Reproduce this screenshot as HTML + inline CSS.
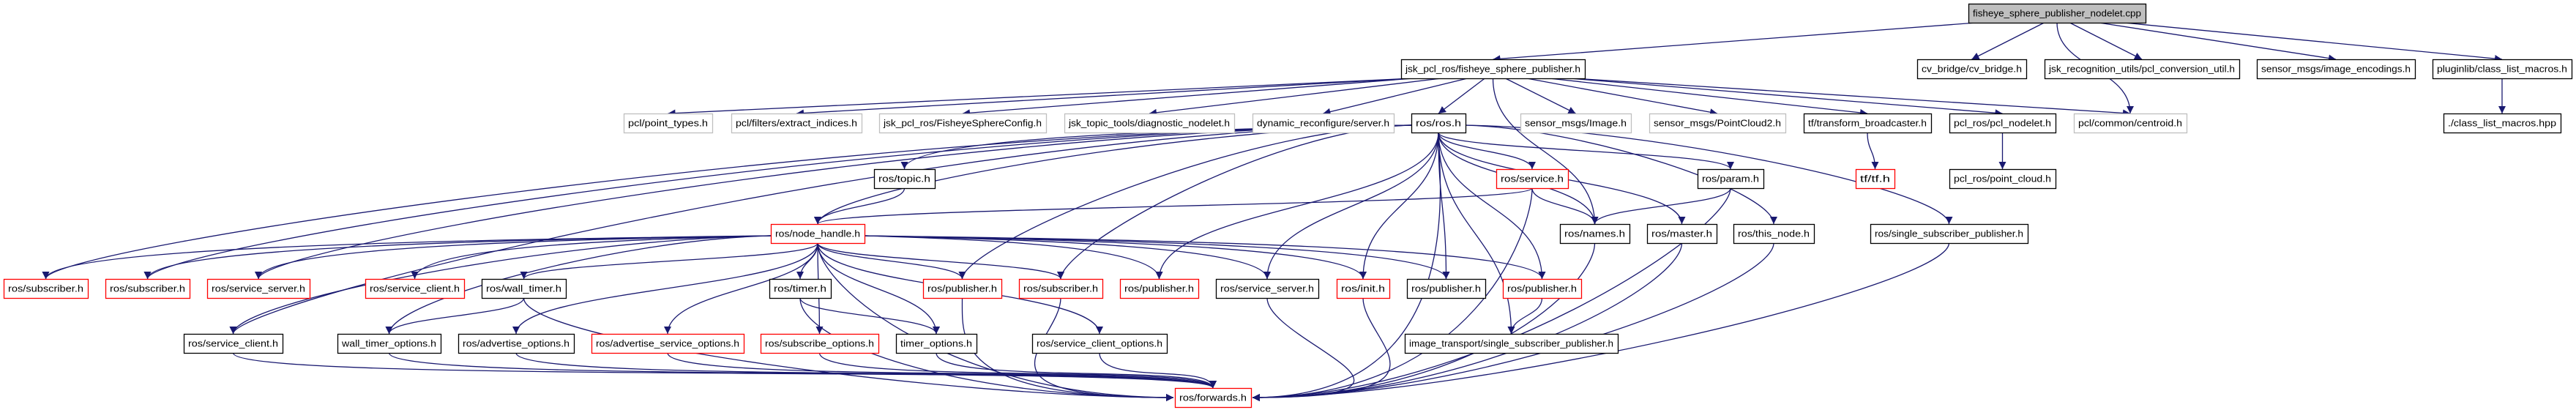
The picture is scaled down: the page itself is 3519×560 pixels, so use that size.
<!DOCTYPE html>
<html><head><meta charset="utf-8"><style>
html,body{margin:0;padding:0;background:#fff;}
svg{display:block;}
text{font-family:"Liberation Sans",sans-serif;font-size:13px;fill:#000;}
</style></head><body>
<svg id="g" xmlns="http://www.w3.org/2000/svg" width="3519" height="560" viewBox="0 0 3519 560">
<defs><marker id="a" viewBox="0 0 10 10" refX="10" refY="5" markerWidth="10" markerHeight="10" markerUnits="userSpaceOnUse" orient="auto"><path d="M0,0L10,5L0,10z" fill="#191970"/></marker></defs>
<g id="e"></g><g id="n"></g>
</svg>
<script>
var R=[5,81,155,231,306,381,456,530];
var N={
root:[2689,2931,0,'fisheye_sphere_publisher_nodelet.cpp','r'],
fp:[1914,2165,1,'jsk_pcl_ros/fisheye_sphere_publisher.h','k'],
cv:[2619,2768,1,'cv_bridge/cv_bridge.h','k'],
jr:[2793,3059,1,'jsk_recognition_utils/pcl_conversion_util.h','k'],
ie:[3083,3299,1,'sensor_msgs/image_encodings.h','k'],
cl:[3323,3513,1,'pluginlib/class_list_macros.h','k'],
pt:[852,973,2,'pcl/point_types.h','g'],
ei:[999,1177,2,'pcl/filters/extract_indices.h','g'],
fc:[1201,1429,2,'jsk_pcl_ros/FisheyeSphereConfig.h','g'],
dn:[1454,1686,2,'jsk_topic_tools/diagnostic_nodelet.h','g'],
dr:[1711,1904,2,'dynamic_reconfigure/server.h','g'],
ros:[1928,2002,2,'ros/ros.h','k'],
si:[2077,2228,2,'sensor_msgs/Image.h','g'],
pc2:[2253,2439,2,'sensor_msgs/PointCloud2.h','g'],
tb:[2464,2638,2,'tf/transform_broadcaster.h','k'],
pn:[2663,2808,2,'pcl_ros/pcl_nodelet.h','k'],
ce:[2833,2987,2,'pcl/common/centroid.h','g'],
clh:[3338,3498,2,'./class_list_macros.hpp','k'],
tp:[1194,1277,3,'ros/topic.h','k'],
sv:[2044,2142,3,'ros/service.h','red'],
pa:[2319,2409,3,'ros/param.h','k'],
tf:[2535,2588,3,'tf/tf.h','red'],
pcc:[2663,2808,3,'pcl_ros/point_cloud.h','k'],
nh:[1053,1181,4,'ros/node_handle.h','red'],
nm:[2131,2226,4,'ros/names.h','k'],
ms:[2250,2345,4,'ros/master.h','k'],
tn:[2368,2478,4,'ros/this_node.h','k'],
ssp:[2555,2770,4,'ros/single_subscriber_publisher.h','k'],
s1:[5,120,5,'ros/subscriber.h','red'],
s2:[144,259,5,'ros/subscriber.h','red'],
ss1:[283,423,5,'ros/service_server.h','red'],
sc1:[499,634,5,'ros/service_client.h','red'],
wt:[658,773,5,'ros/wall_timer.h','k'],
tm:[1051,1135,5,'ros/timer.h','k'],
p1:[1261,1368,5,'ros/publisher.h','red'],
s3:[1392,1506,5,'ros/subscriber.h','red'],
p2:[1530,1637,5,'ros/publisher.h','red'],
ss2:[1661,1801,5,'ros/service_server.h','k'],
in:[1826,1898,5,'ros/init.h','red'],
p3:[1922,2029,5,'ros/publisher.h','k'],
p4:[2053,2160,5,'ros/publisher.h','red'],
sc2:[251,386,6,'ros/service_client.h','k'],
wto:[461,602,6,'wall_timer_options.h','k'],
ao:[626,784,6,'ros/advertise_options.h','k'],
aso:[808,1016,6,'ros/advertise_service_options.h','red'],
so:[1039,1200,6,'ros/subscribe_options.h','red'],
to:[1224,1334,6,'timer_options.h','k'],
sco:[1410,1594,6,'ros/service_client_options.h','k'],
it:[1919,2210,6,'image_transport/single_subscriber_publisher.h','k'],
fw:[1605,1709,7,'ros/forwards.h','red']
};
var E={
root:['fp','cv','jr','ie','cl','ce'],cl:['clh'],
fp:['pt','ei','fc','dn','dr','ros','si','pc2','tb','pn','ce','nm'],
tb:['tf'],pn:['pcc'],
ros:['tp','nh','sv','nm','ms','tn','pa','ssp','s1','s2','ss1','sc2','p1','s3','p2','ss2','in','p3','p4','it','fw'],
tp:['nh'],sv:['nh','nm','fw'],pa:['nm','fw'],nm:['fw'],ms:['fw'],tn:['fw'],ssp:['fw'],
nh:['s1','s2','ss1','sc1','wt','tm','sc2','wto','ao','aso','so','to','sco','p1','s3','p2','ss2','in','p3','p4','fw'],
wt:['wto','fw'],tm:['to','fw'],
sc2:['fw'],wto:['fw'],ao:['fw'],aso:['fw'],so:['fw'],to:['fw'],sco:['fw'],
p1:['fw'],s3:['fw'],ss2:['fw'],in:['fw'],p4:['it']
};
var NS='http://www.w3.org/2000/svg',eg=document.getElementById('e'),ng=document.getElementById('n');
function el(t,a,p){var e=document.createElementNS(NS,t);for(var k in a)e.setAttribute(k,a[k]);p.appendChild(e);return e;}
for(var s in E){E[s].forEach(function(t){
 var A=N[s],B=N[t];var ay=R[A[2]]+26,by=R[B[2]];
 var ax=(A[0]+A[1])/2,bx=(B[0]+B[1])/2;var d;
 if((s=='fp'||s=='root') && B[2]-A[2]==1){
   var sx=ax+Math.max(-110,Math.min(110,(bx-ax)*0.15));
   d='M'+sx+','+ay+' L'+bx+','+by;
 } else if(t=='fw'){
   if(B[2]-A[2]>1){
     var side=ax<bx?B[0]-2:B[1]+2; var cy=by+13;
     d='M'+ax+','+ay+' C'+ax+','+(ay+60)+' '+(side+(ax<bx?-300:300))+','+cy+' '+side+','+cy;
   } else {
     var my=(ay+by)/2;
     d='M'+ax+','+ay+' C'+ax+','+(my+20)+' '+bx+','+(my-10)+' '+bx+','+by;
   }
 } else if((s=='ros'||s=='nh') && Math.abs(bx-ax)>450){
   var sx=bx<ax?A[0]:A[1], sy=R[A[2]]+16;
   d='M'+sx+','+sy+' C'+(sx+(bx-sx)*0.4)+','+(sy+5)+' '+bx+','+(by-45)+' '+bx+','+by;
 } else {
   var my=(ay+by)/2;
   d='M'+ax+','+ay+' C'+ax+','+my+' '+bx+','+my+' '+bx+','+by;
 }
 el('path',{d:d,fill:'none',stroke:'#191970','stroke-width':'1.3','marker-end':'url(#a)'},eg);
});}
for(var k in N){var v=N[k];var y=R[v[2]];var w=v[1]-v[0];
 var st=v[4]=='g'?'#bfbfbf':(v[4]=='red'?'#ff0000':'#000');
 el('rect',{x:v[0]+0.5,y:y+0.5,width:w,height:26,fill:k=='root'?'#bfbfbf':'#fff',stroke:st,'stroke-width':'1.3'},ng);
 var t=el('text',{x:(v[0]+v[1])/2,y:y+17.5,'text-anchor':'middle',textLength:w-12,lengthAdjust:'spacingAndGlyphs'},ng);
 t.textContent=v[3];
}
</script>
</body></html>
